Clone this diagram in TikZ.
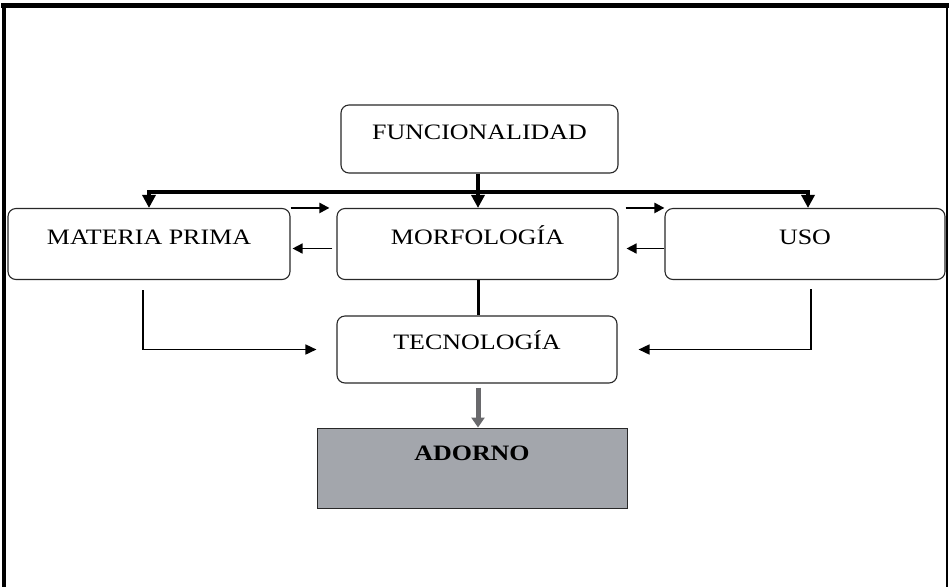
\documentclass[tikz,border=0pt]{standalone}
\usepackage{graphicx}
\usepackage{fontspec}
\setmainfont{Liberation Serif}
\usetikzlibrary{arrows.meta}
\definecolor{adorngray}{RGB}{163,166,172}
\definecolor{arrowgray}{RGB}{105,105,108}
\definecolor{boxline}{RGB}{40,40,40}
\newcommand\wtxt[1]{\scalebox{1.18}[1]{#1}}
\begin{document}
\begin{tikzpicture}[x=1pt,y=-1pt,
  font=\fontsize{22}{26}\selectfont,
  rbox/.style 2 args={draw=boxline, line width=1.1pt, rounded corners=8pt,
     minimum width=#1, inner xsep=0pt, inner ysep=0pt,
     text height=#2/2, text depth=#2/2},
  bigarrow/.style={line width=4pt, line join=miter, -{Triangle[length=13pt,width=13pt]}},
  bigline/.style={line width=4pt},
  smallarrow/.style={line width=2.2pt, -{Triangle[length=10pt,width=10pt]}},
  backarrow/.style={line width=1.5pt, -{Triangle[length=10pt,width=10pt]}},
  medarrow/.style={line width=1.6pt, line join=miter, -{Triangle[length=11pt,width=10pt]}},
  grayarrow/.style={draw=arrowgray, line width=5pt, -{Triangle[length=10pt,width=13pt]}}
]
\useasboundingbox (0,0) rectangle (949,587);
\fill[white] (0,0) rectangle (949,587);
% frame
\draw[line width=5pt] (1,5) -- (949,5);
\draw[line width=3.5pt] (4,5) -- (4,587);
\draw[line width=2pt] (947,5) -- (947,587);

% nodes
\node[rbox={277pt}{68pt}] (FUN) at (479.5,139) {\wtxt{FUNCIONALIDAD}};
\node[rbox={282pt}{71pt}] (MAT) at (149,244) {\wtxt{MATERIA PRIMA}};
\node[rbox={281pt}{71pt}] (MORF) at (477.5,244) {\wtxt{MORFOLOGÍA}};
\node[rbox={280pt}{71pt}] (USO) at (805,244) {\wtxt{USO}};
\node[rbox={280pt}{67pt}] (TEC) at (477,349.5) {\wtxt{TECNOLOGÍA}};
\node[draw=boxline, line width=1pt, fill=adorngray, minimum width=310pt,
      inner xsep=0pt, inner ysep=0pt, text height=32pt, text depth=48pt,
      font=\fontsize{22}{26}\selectfont\bfseries] (ADO) at (472,468) {\wtxt{ADORNO}};

% thick distribution from FUNCIONALIDAD
\coordinate (j) at (478,192);
\draw[bigline] (FUN.south -| j) -- (j);
\draw[bigarrow] (j) -| (MAT.north);
\draw[bigarrow] (j) -- (j |- MORF.north);
\draw[bigarrow] (j) -| ([xshift=3pt]USO.north);

% small arrows between the top row
\draw[smallarrow, shorten >=7pt] (MAT.north east) -- (MORF.north west);
\draw[smallarrow, shorten <=7pt] (MORF.north east) -- (USO.north west);
\draw[backarrow, shorten <=4pt, shorten >=2pt] ([yshift=-4.5pt]MORF.west) -- ([yshift=-4.5pt]MAT.east);
\draw[backarrow, shorten >=8pt] ([yshift=-4.5pt]USO.west) -- ([yshift=-4.5pt]MORF.east);

% side connectors to TECNOLOGIA
\coordinate (ms) at (143,290);
\coordinate (us) at (811,289);
\draw[medarrow, shorten >=20pt] (ms) |- (TEC.west);
\draw[medarrow, shorten >=21pt] (us) |- (TEC.east);

% MORFOLOGIA to TECNOLOGIA
\draw[line width=3pt] (j |- MORF.south) -- (j |- TEC.north);

% TECNOLOGIA to ADORNO
\draw[grayarrow, shorten <=4pt] (j |- TEC.south) -- (j |- ADO.north);
\end{tikzpicture}
\end{document}
